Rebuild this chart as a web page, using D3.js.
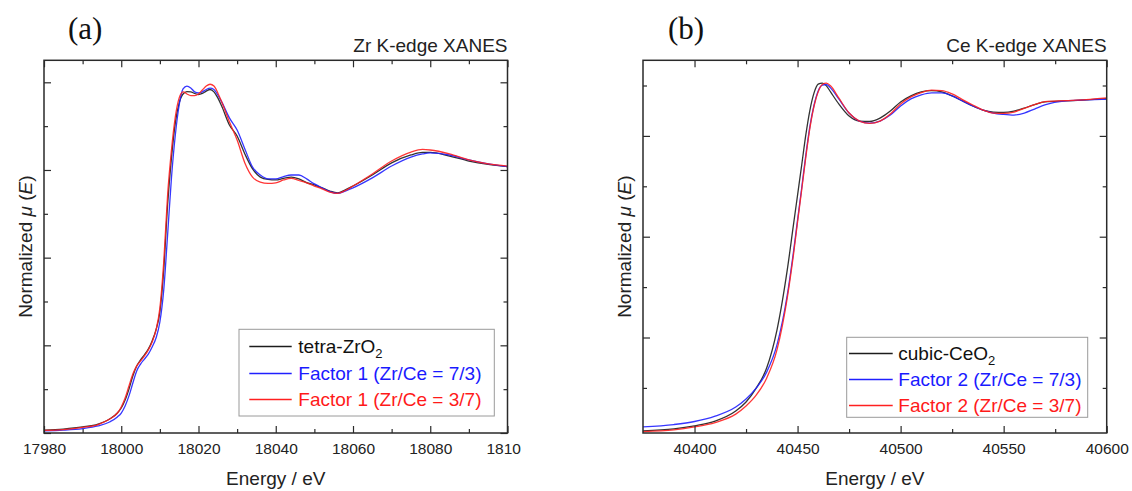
<!DOCTYPE html>
<html>
<head>
<meta charset="utf-8">
<script src="https://cdn.jsdelivr.net/npm/d3@7"></script>
<style>
  body { margin: 0; background: #fff; }
  svg { display: block; font-family: "Liberation Sans", Arial, sans-serif; }
</style>
</head>
<body>
<svg id="chart" width="1132" height="491"></svg>
<script>
// ---- Zr K-edge data (normalized mu(E)) ----
const zrEnergy = [17980, 17985, 17990, 17994, 17997, 17999, 18000, 18001, 18002, 18003, 18004, 18005,
  18006, 18007, 18008, 18009, 18010, 18011, 18012, 18013, 18014, 18015, 18016, 18017, 18018, 18019,
  18020, 18021, 18022, 18023, 18024, 18025, 18026, 18028, 18030, 18032, 18034, 18036, 18038, 18040,
  18042, 18044, 18046, 18048, 18050, 18052, 18054, 18056, 18058, 18060, 18065, 18070, 18075, 18078,
  18080, 18085, 18090, 18095, 18100];
const zrTetra = [0.011, 0.015, 0.023, 0.034, 0.053, 0.076, 0.095, 0.125, 0.167, 0.217, 0.255, 0.278,
  0.297, 0.319, 0.350, 0.392, 0.460, 0.620, 0.867, 1.046, 1.179, 1.255, 1.289, 1.298, 1.297, 1.291,
  1.287, 1.291, 1.300, 1.306, 1.297, 1.274, 1.243, 1.171, 1.129, 1.061, 1.004, 0.973, 0.964, 0.962,
  0.968, 0.973, 0.966, 0.952, 0.943, 0.932, 0.920, 0.913, 0.924, 0.939, 0.981, 1.027, 1.057, 1.067,
  1.067, 1.053, 1.034, 1.021, 1.013];
// Factor 1, Zr/Ce = 7/3
const zrFactor73 = [0.008, 0.011, 0.017, 0.027, 0.042, 0.061, 0.076, 0.103, 0.141, 0.190, 0.236, 0.262,
  0.281, 0.300, 0.327, 0.361, 0.422, 0.544, 0.753, 0.970, 1.133, 1.247, 1.308, 1.319, 1.312, 1.297,
  1.293, 1.297, 1.306, 1.311, 1.306, 1.285, 1.259, 1.198, 1.152, 1.080, 1.011, 0.981, 0.966, 0.966,
  0.975, 0.981, 0.981, 0.966, 0.947, 0.932, 0.918, 0.911, 0.920, 0.932, 0.970, 1.015, 1.049, 1.061,
  1.065, 1.057, 1.038, 1.023, 1.013];
// Factor 1, Zr/Ce = 3/7
const zrFactor37 = [0.010, 0.013, 0.021, 0.032, 0.053, 0.076, 0.099, 0.133, 0.179, 0.224, 0.255, 0.274,
  0.293, 0.316, 0.346, 0.392, 0.475, 0.650, 0.905, 1.076, 1.202, 1.274, 1.297, 1.289, 1.283, 1.283,
  1.289, 1.304, 1.319, 1.326, 1.319, 1.293, 1.259, 1.183, 1.114, 1.027, 0.973, 0.954, 0.949, 0.951,
  0.962, 0.968, 0.960, 0.951, 0.939, 0.928, 0.916, 0.911, 0.922, 0.939, 0.985, 1.034, 1.068, 1.078,
  1.076, 1.061, 1.038, 1.023, 1.015];

// ---- Ce K-edge data (normalized mu(E)) ----
const ceEnergy = [40375, 40390, 40400, 40410, 40420, 40425, 40430, 40435, 40440, 40445, 40448, 40450,
  40452, 40454, 40456, 40458, 40460, 40462, 40464, 40466, 40470, 40475, 40480, 40485, 40490, 40495,
  40500, 40505, 40510, 40515, 40520, 40525, 40530, 40535, 40540, 40545, 40550, 40555, 40560, 40565,
  40570, 40580, 40590, 40600];
const ceCubic = [0.022, 0.028, 0.037, 0.051, 0.081, 0.108, 0.150, 0.209, 0.322, 0.501, 0.635, 0.724,
  0.813, 0.903, 0.977, 1.028, 1.054, 1.057, 1.049, 1.031, 0.995, 0.959, 0.944, 0.943, 0.953, 0.974,
  1.001, 1.019, 1.031, 1.035, 1.031, 1.019, 1.004, 0.989, 0.977, 0.971, 0.970, 0.974, 0.983, 0.993,
  1.001, 1.004, 1.007, 1.011];
// Factor 2, Zr/Ce = 7/3
const ceFactor73 = [0.034, 0.041, 0.050, 0.066, 0.093, 0.117, 0.150, 0.197, 0.278, 0.426, 0.554, 0.650,
  0.745, 0.843, 0.929, 0.992, 1.034, 1.051, 1.053, 1.043, 1.010, 0.968, 0.944, 0.938, 0.944, 0.962,
  0.989, 1.010, 1.022, 1.028, 1.028, 1.019, 1.004, 0.989, 0.977, 0.968, 0.964, 0.962, 0.968, 0.980,
  0.992, 1.004, 1.007, 1.009];
// Factor 2, Zr/Ce = 3/7
const ceFactor37 = [0.020, 0.025, 0.034, 0.047, 0.072, 0.096, 0.129, 0.179, 0.263, 0.418, 0.546, 0.644,
  0.739, 0.837, 0.924, 0.989, 1.031, 1.053, 1.057, 1.049, 1.013, 0.968, 0.944, 0.937, 0.944, 0.965,
  0.995, 1.016, 1.029, 1.036, 1.035, 1.025, 1.008, 0.992, 0.977, 0.968, 0.967, 0.971, 0.982, 0.993,
  1.002, 1.005, 1.008, 1.013];

// ---- ticks ----
const zrXMajor = [17980, 18000, 18020, 18040, 18060, 18080, 18100];
const zrXMinor = [17990, 18010, 18030, 18050, 18070, 18090];
const zrYMajor = [0, 1 / 3, 2 / 3, 1, 4 / 3];
const zrYMinor = [1 / 6, 0.5, 5 / 6, 7 / 6];
const ceXMajor = [40400, 40450, 40500, 40550, 40600];
const ceXMinor = [40425, 40475, 40525, 40575];
const ceYMajor = [0.3, 0.6, 0.9];
const ceYMinor = [0.15, 0.45, 0.75, 1.05];

const zrLabels = ["tetra-ZrO|2", "Factor 1 (Zr/Ce = 7/3)", "Factor 1 (Zr/Ce = 3/7)"];
const ceLabels = ["cubic-CeO|2", "Factor 2 (Zr/Ce = 7/3)", "Factor 2 (Zr/Ce = 3/7)"];
const colors = ["#1c1c1c", "#2020ff", "#ff2020"];
const textColors = ["#111", "#1a1aff", "#ff1a1a"];

const svg = d3.select("#chart");
const axisColor = "#2a2a2a";

function drawPanel(p) {
  const g = svg.append("g");
  if (p.clipW) {
    svg.append("clipPath").attr("id", p.id + "-cut")
      .append("rect").attr("x", p.x0 - 60).attr("y", 0).attr("width", p.clipW - p.x0 + 60).attr("height", 491);
    g.attr("clip-path", `url(#${p.id}-cut)`);
  }
  const x = d3.scaleLinear().domain(p.xDomain).range([p.x0, p.x1]);
  const y = d3.scaleLinear().domain(p.yDomain).range([p.y1, p.y0]);

  // curves
  svg.append("clipPath").attr("id", p.id + "-plot")
    .append("rect").attr("x", p.x0).attr("y", p.y0).attr("width", p.x1 - p.x0).attr("height", p.y1 - p.y0);
  const line = d3.line().x((d, i) => x(p.energy[i])).y(d => y(d)).curve(d3.curveMonotoneX);
  const curves = g.append("g").attr("clip-path", `url(#${p.id}-plot)`);
  p.series.forEach((s, i) => {
    curves.append("path").datum(s)
      .attr("d", line)
      .attr("fill", "none")
      .attr("stroke", colors[i])
      .attr("stroke-width", 1.3)
      .attr("stroke-opacity", 0.9);
  });

  // axes (all ticks inward)
  const addAxis = (axis, tx, ty) => {
    const a = g.append("g").attr("transform", `translate(${tx},${ty})`).call(axis);
    a.select(".domain").remove();
    a.selectAll("line").attr("stroke", axisColor).attr("stroke-width", 1.2);
    a.selectAll("text").attr("fill", "#222").style("font-size", "15.5px")
      .style("font-family", '"Liberation Sans", Arial, sans-serif');
    return a;
  };
  addAxis(d3.axisBottom(x).tickValues(p.xMajor).tickSize(-7).tickPadding(10).tickFormat(d3.format("d")), 0, p.y1);
  addAxis(d3.axisBottom(x).tickValues(p.xMinor).tickSize(-4).tickFormat(""), 0, p.y1);
  addAxis(d3.axisTop(x).tickValues(p.xMajor).tickSize(-7).tickFormat(""), 0, p.y0);
  addAxis(d3.axisTop(x).tickValues(p.xMinor).tickSize(-4).tickFormat(""), 0, p.y0);
  addAxis(d3.axisLeft(y).tickValues(p.yMajor).tickSize(-7).tickFormat(""), p.x0, 0);
  addAxis(d3.axisLeft(y).tickValues(p.yMinor).tickSize(-4).tickFormat(""), p.x0, 0);
  addAxis(d3.axisRight(y).tickValues(p.yMajor).tickSize(-7).tickFormat(""), p.x1, 0);
  addAxis(d3.axisRight(y).tickValues(p.yMinor).tickSize(-4).tickFormat(""), p.x1, 0);

  g.append("rect")
    .attr("x", p.x0).attr("y", p.y0).attr("width", p.x1 - p.x0).attr("height", p.y1 - p.y0)
    .attr("fill", "none").attr("stroke", axisColor).attr("stroke-width", 1.5);

  // titles
  g.append("text").attr("x", p.x1).attr("y", 52).attr("text-anchor", "end")
    .style("font-size", "19px").attr("fill", "#222").text(p.title);
  g.append("text").attr("x", p.tagX).attr("y", 39)
    .style("font-family", '"Liberation Serif", "Times New Roman", serif')
    .style("font-size", "31px").attr("fill", "#111").text(p.tag);
  g.append("text").attr("x", (p.x0 + p.x1) / 2).attr("y", 485).attr("text-anchor", "middle")
    .style("font-size", "19px").attr("fill", "#222").text("Energy / eV");
  const yl = g.append("text")
    .attr("transform", `translate(${p.x0 - 12},${(p.y0 + p.y1) / 2}) rotate(-90)`)
    .attr("text-anchor", "middle").style("font-size", "19px").attr("fill", "#222");
  yl.append("tspan").text("Normalized ");
  yl.append("tspan").style("font-style", "italic").text("\u03bc");
  yl.append("tspan").text(" (");
  yl.append("tspan").style("font-style", "italic").text("E");
  yl.append("tspan").text(")");

  // legend
  const L = p.legend;
  g.append("rect").attr("x", L.x0).attr("y", L.y0).attr("width", L.x1 - L.x0).attr("height", L.y1 - L.y0)
    .attr("fill", "#fff").attr("stroke", "#9a9a9a").attr("stroke-width", 1);
  p.labels.forEach((lab, i) => {
    const ry = L.rows[i];
    g.append("path")
      .attr("d", `M${L.lx0},${ry}H${L.lx1}`)
      .attr("fill", "none")
      .attr("stroke", colors[i]).attr("stroke-width", 1.3);
    const t = g.append("text").attr("x", L.tx).attr("y", ry + 6.5)
      .style("font-size", "19px").attr("fill", textColors[i]);
    const parts = lab.split("|");
    t.append("tspan").text(parts[0]);
    if (parts[1]) t.append("tspan").attr("dy", 5).style("font-size", "13px").text(parts[1]);
  });
}

drawPanel({
  id: "zr", x0: 44, x1: 507.5, y0: 60.3, y1: 433, clipW: 521,
  xDomain: [17980, 18100], yDomain: [0, 1.417],
  xMajor: zrXMajor, xMinor: zrXMinor, yMajor: zrYMajor, yMinor: zrYMinor,
  energy: zrEnergy, series: [zrTetra, zrFactor73, zrFactor37],
  title: "Zr K-edge XANES", tag: "(a)", tagX: 68, labels: zrLabels,
  legend: { x0: 239, y0: 329.3, x1: 494.3, y1: 416, lx0: 249.3, lx1: 291.7, tx: 298.3, rows: [346.5, 373.5, 399.5] }
});

drawPanel({
  id: "ce", x0: 643, x1: 1106.7, y0: 60.3, y1: 433,
  xDomain: [40375, 40600], yDomain: [0.0158, 1.125],
  xMajor: ceXMajor, xMinor: ceXMinor, yMajor: ceYMajor, yMinor: ceYMinor,
  energy: ceEnergy, series: [ceCubic, ceFactor73, ceFactor37],
  title: "Ce K-edge XANES", tag: "(b)", tagX: 668, labels: ceLabels,
  legend: { x0: 846.7, y0: 337.3, x1: 1087.7, y1: 417.3, lx0: 849, lx1: 892.7, tx: 898.3, rows: [353.5, 379.5, 405.5] }
});
</script>
</body>
</html>
